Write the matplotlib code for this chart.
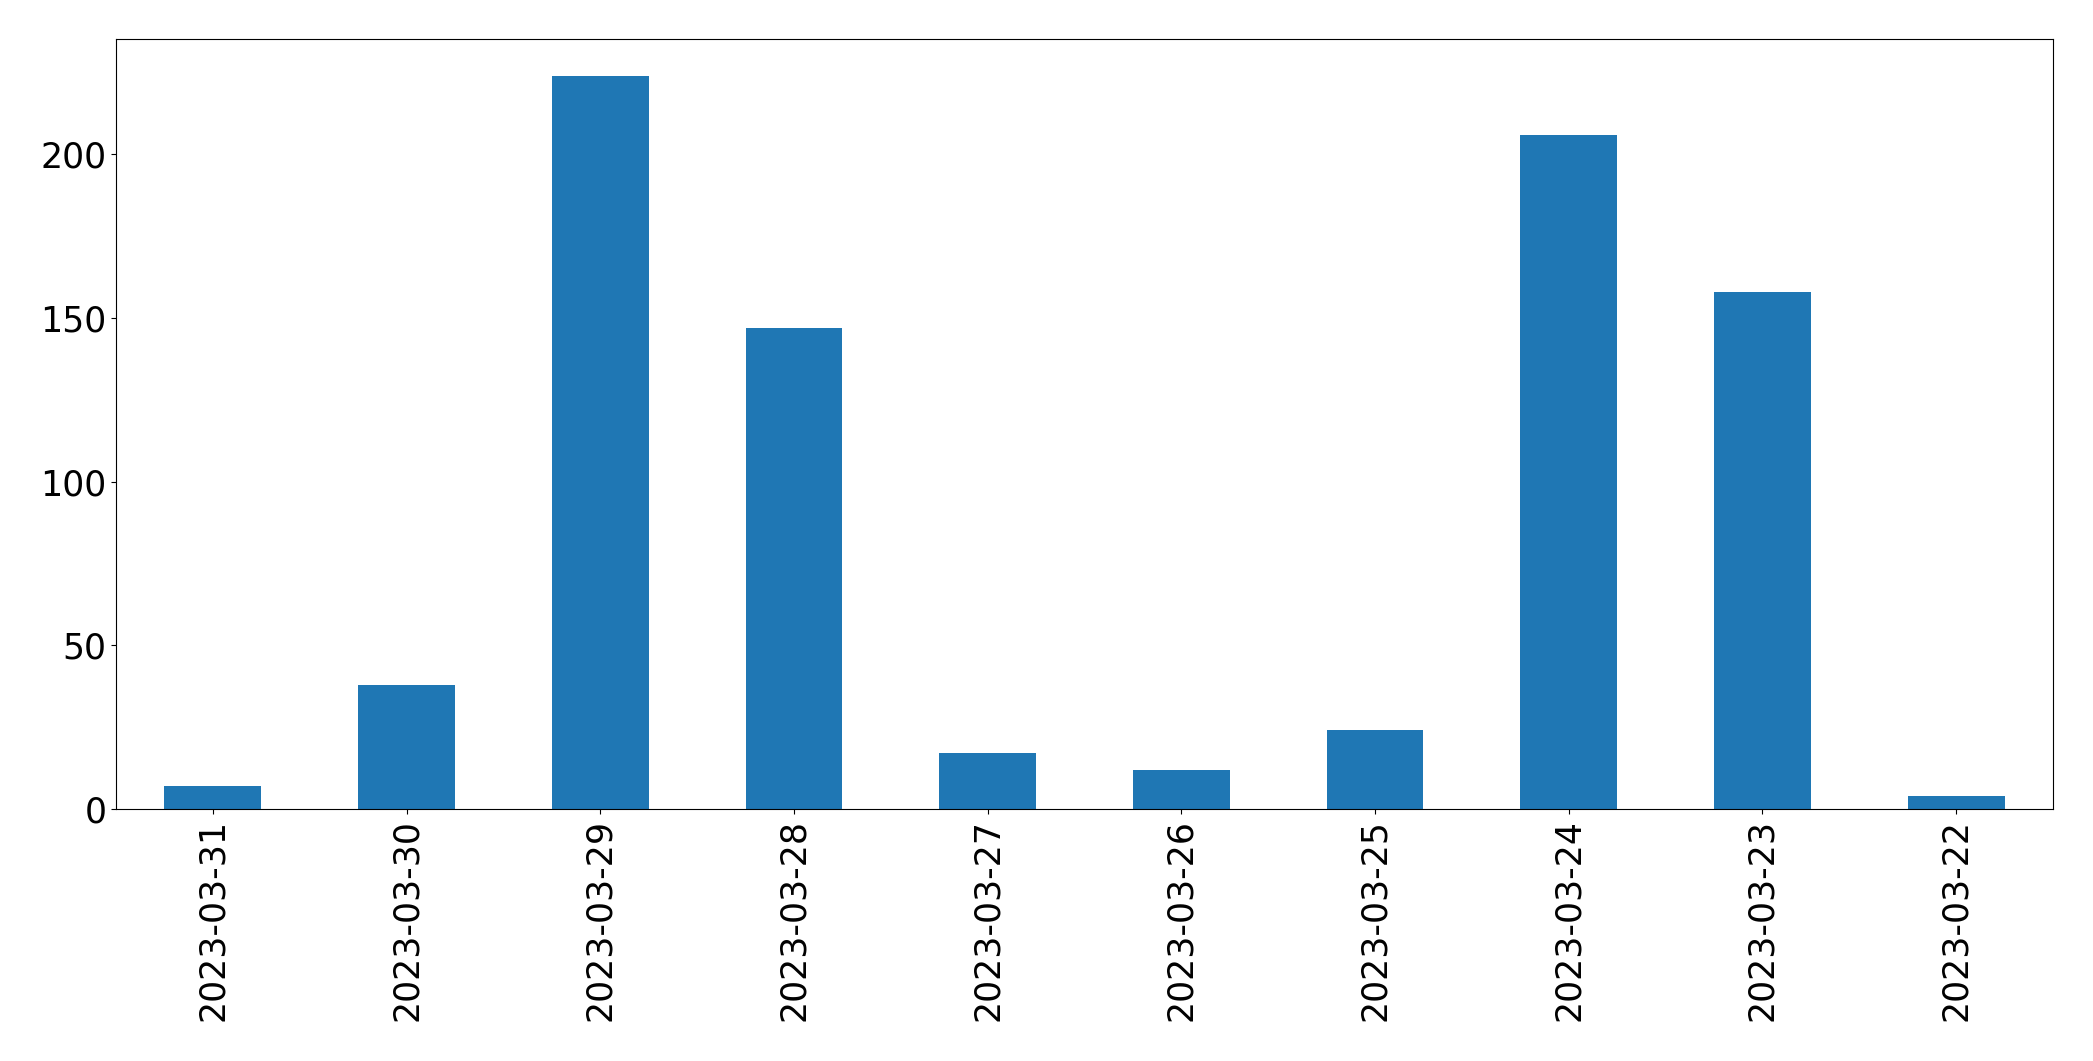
import matplotlib
matplotlib.use("Agg")
import matplotlib.pyplot as plt
import numpy as np

# Werte pro Tag
dates = ["2023-03-31", "2023-03-30", "2023-03-29", "2023-03-28", "2023-03-27",
         "2023-03-26", "2023-03-25", "2023-03-24", "2023-03-23", "2023-03-22"]
counts = [7, 38, 224, 147, 17, 12, 24, 206, 158, 4]

fig = plt.figure(figsize=(20.93, 10.61), dpi=100)
ax = fig.add_axes([116 / 2093, 1 - 809 / 1061, (2053 - 116) / 2093, (809 - 39) / 1061])

x = np.arange(len(dates))
ax.bar(x, counts, width=0.5, color='#1f77b4')
ax.set_xlim(-0.5, len(dates) - 0.5)
ax.set_ylim(0, max(counts) * 1.05)
ax.set_yticks([0, 50, 100, 150, 200])
ax.set_xticks(x)
ax.set_xticklabels(dates, rotation=90)
ax.tick_params(axis='both', labelsize=25)

fig.savefig("out.png", dpi=100)
plt.close(fig)
